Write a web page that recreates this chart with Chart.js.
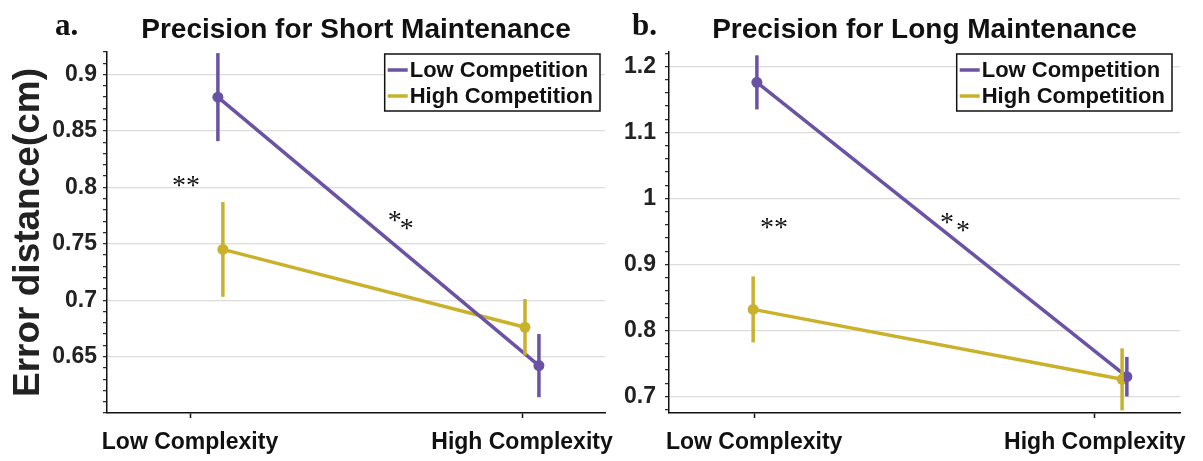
<!DOCTYPE html>
<html lang="en">
<head>
  <meta charset="UTF-8">
  <title>Precision for Short and Long Maintenance</title>
  <script src="https://cdn.jsdelivr.net/npm/chart.js"></script>
  <style>
    body { margin: 0; background: #fff; }
    .panel { position: absolute; top: 0; height: 461px; }
    #panelA { left: 0; width: 615px; }
    #panelB { left: 615px; width: 588px; }
  </style>
</head>
<body>
  <div class="panel" id="panelA"><canvas id="shortChart"></canvas></div>
  <div class="panel" id="panelB"><canvas id="longChart"></canvas></div>

  <script>
    const categories = ["Low Complexity", "High Complexity"];
    const seriesNames = ["Low Competition", "High Competition"];
    const seriesColors = ["#6a52a4", "#c9b12c"];

    // a. short maintenance (means and error half-widths)
    const shortLowComp = [0.880, 0.642];
    const shortLowCompErr = [0.039, 0.028];
    const shortHighComp = [0.745, 0.676];
    const shortHighCompErr = [0.042, 0.025];
    // groups are dodged a little round each category
    const shortLowCompX = [1.084, 2.051];
    const shortHighCompX = [1.099, 2.009];
    const shortYMajor = [0.65, 0.7, 0.75, 0.8, 0.85, 0.9];
    const shortYRange = [0.6, 0.92];
    const shortStars = ["**", "*", "*"];
    const shortStarX = [0.988, 1.617, 1.653];
    const shortStarY = [0.8065, 0.7755, 0.7684];

    // b. long maintenance
    const longLowComp = [1.176, 0.730];
    const longLowCompErr = [0.041, 0.030];
    const longHighComp = [0.832, 0.726];
    const longHighCompErr = [0.050, 0.047];
    const longLowCompX = [1.008, 2.094];
    const longHighCompX = [0.997, 2.080];
    const longYMajor = [0.7, 0.8, 0.9, 1, 1.1, 1.2];
    const longYRange = [0.675, 1.222];
    const longStars = ["**", "*", "*"];
    const longStarX = [1.058, 1.566, 1.613];
    const longStarY = [0.964, 0.972, 0.960];

    const xRange = [0.75, 2.25];
    const sans = "'Liberation Sans', Arial, sans-serif";

    function decor(p) {
      return {
        id: "decor",
        afterDatasetsDraw(chart) {
          const { ctx, chartArea: a, scales: { x, y } } = chart;
          ctx.save();
          ctx.beginPath();
          ctx.rect(a.left, a.top, a.right - a.left, a.bottom - a.top);
          ctx.clip();
          ctx.lineWidth = 3.5;
          p.series.forEach((s, i) => {
            ctx.strokeStyle = seriesColors[i];
            s.y.forEach((v, j) => {
              const px = x.getPixelForValue(s.x[j]);
              ctx.beginPath();
              ctx.moveTo(px, y.getPixelForValue(v + s.err[j]));
              ctx.lineTo(px, y.getPixelForValue(v - s.err[j]));
              ctx.stroke();
            });
          });
          ctx.restore();
        },
        afterDraw(chart) {
          const { ctx, chartArea: a, scales: { x, y } } = chart;
          ctx.save();
          ctx.fillStyle = "#111";
          ctx.textAlign = "center";

          // significance marks
          ctx.font = "28px 'Liberation Serif', serif";
          ctx.textBaseline = "alphabetic";
          p.stars.forEach((t, k) => {
            ctx.fillText(t, x.getPixelForValue(p.starX[k]), y.getPixelForValue(p.starY[k]) + 14);
          });

          // panel title + letter
          ctx.textBaseline = "middle";
          ctx.font = "bold 28px " + sans;
          ctx.fillText(p.title, (a.left + a.right) / 2, 30);
          ctx.textAlign = "left";
          ctx.font = "bold 31px 'Liberation Serif', serif";
          ctx.fillText(p.letter, p.letterX, 27);

          // legend box
          ctx.font = "bold 22px " + sans;
          const tw = Math.max(...seriesNames.map(n => ctx.measureText(n).width));
          const w = tw + 32, h = 57;
          const left = a.right - p.legendGap - w, top = a.top + 2;
          ctx.fillStyle = "#fff";
          ctx.fillRect(left, top, w, h);
          ctx.strokeStyle = "#111";
          ctx.lineWidth = 1.5;
          ctx.strokeRect(left, top, w, h);
          seriesNames.forEach((n, i) => {
            const cy = top + 16 + i * 26;
            ctx.strokeStyle = seriesColors[i];
            ctx.lineWidth = 3.5;
            ctx.beginPath();
            ctx.moveTo(left + 3, cy);
            ctx.lineTo(left + 23, cy);
            ctx.stroke();
            ctx.fillStyle = "#111";
            ctx.fillText(n, left + 25, cy + 1);
          });
          ctx.restore();
        }
      };
    }

    function makePanel(id, p) {
      const isMajor = v => p.yMajor.find(m => Math.abs(m - v) < 1e-6);
      new Chart(document.getElementById(id), {
        type: "line",
        data: {
          datasets: p.series.map((s, i) => ({
            label: seriesNames[i],
            data: s.x.map((xv, j) => ({ x: xv, y: s.y[j] })),
            borderColor: seriesColors[i],
            backgroundColor: seriesColors[i],
            borderWidth: 3.5,
            pointRadius: 5.5,
            pointBorderWidth: 0
          }))
        },
        options: {
          responsive: true,
          maintainAspectRatio: false,
          animation: false,
          layout: { padding: { left: 0, right: p.padRight, top: 52, bottom: 0 } },
          plugins: { legend: { display: false }, tooltip: { enabled: false } },
          scales: {
            x: {
              type: "linear",
              min: xRange[0],
              max: xRange[1],
              afterBuildTicks: s => { s.ticks = categories.map((c, i) => ({ value: i + 1 })); },
              afterFit: s => { s.height = 48; s.paddingLeft = 0; s.paddingRight = 0; },
              ticks: {
                callback: v => categories[v - 1],
                font: { family: sans, size: 23, weight: "bold" },
                color: "#111",
                padding: 11,
                maxRotation: 0,
                autoSkip: false
              },
              grid: { drawOnChartArea: false, tickLength: 5, tickColor: "#111", tickWidth: 1.5 },
              border: { color: "#111", width: 1.5 }
            },
            y: {
              min: p.yRange[0],
              max: p.yRange[1],
              afterBuildTicks: s => {
                const ticks = [];
                let v = Math.ceil(p.yRange[0] / p.yStep - 1e-9) * p.yStep;
                while (v <= p.yRange[1] + 1e-9) {
                  ticks.push({ value: Math.round(v * 1000) / 1000 });
                  v += p.yStep;
                }
                s.ticks = ticks;
              },
              afterFit: s => { s.width = p.yWidth; },
              ticks: {
                autoSkip: false,
                callback: v => { const m = isMajor(v); return m === undefined ? "" : String(m); },
                font: { family: sans, size: 23, weight: "bold" },
                color: "#222",
                padding: p.tickPad
              },
              grid: {
                color: c => (c.tick && isMajor(c.tick.value) !== undefined) ? "#dcdcdc" : "rgba(0,0,0,0)",
                lineWidth: 1.3,
                tickLength: 4,
                tickColor: "#222",
                tickWidth: 1.2
              },
              border: { color: "#111", width: 1.5 },
              title: {
                display: !!p.yTitle,
                text: p.yTitle || "",
                font: { family: sans, size: 37, weight: "bold", lineHeight: 1 },
                color: "#222",
                padding: { top: 10, bottom: 0 }
              }
            }
          }
        },
        plugins: [decor(p)]
      });
    }

    makePanel("shortChart", {
      letter: "a.", letterX: 55, title: "Precision for Short Maintenance",
      yTitle: "Error distance(cm)", yWidth: 107, tickPad: 6, padRight: 10, legendGap: 5,
      yRange: shortYRange, yStep: 0.01, yMajor: shortYMajor,
      series: [
        { x: shortLowCompX, y: shortLowComp, err: shortLowCompErr },
        { x: shortHighCompX, y: shortHighComp, err: shortHighCompErr }
      ],
      stars: shortStars, starX: shortStarX, starY: shortStarY
    });

    makePanel("longChart", {
      letter: "b.", letterX: 17, title: "Precision for Long Maintenance",
      yTitle: "", yWidth: 54, tickPad: 9, padRight: 23, legendGap: 8,
      yRange: longYRange, yStep: 0.02, yMajor: longYMajor,
      series: [
        { x: longLowCompX, y: longLowComp, err: longLowCompErr },
        { x: longHighCompX, y: longHighComp, err: longHighCompErr }
      ],
      stars: longStars, starX: longStarX, starY: longStarY
    });
  </script>
</body>
</html>
